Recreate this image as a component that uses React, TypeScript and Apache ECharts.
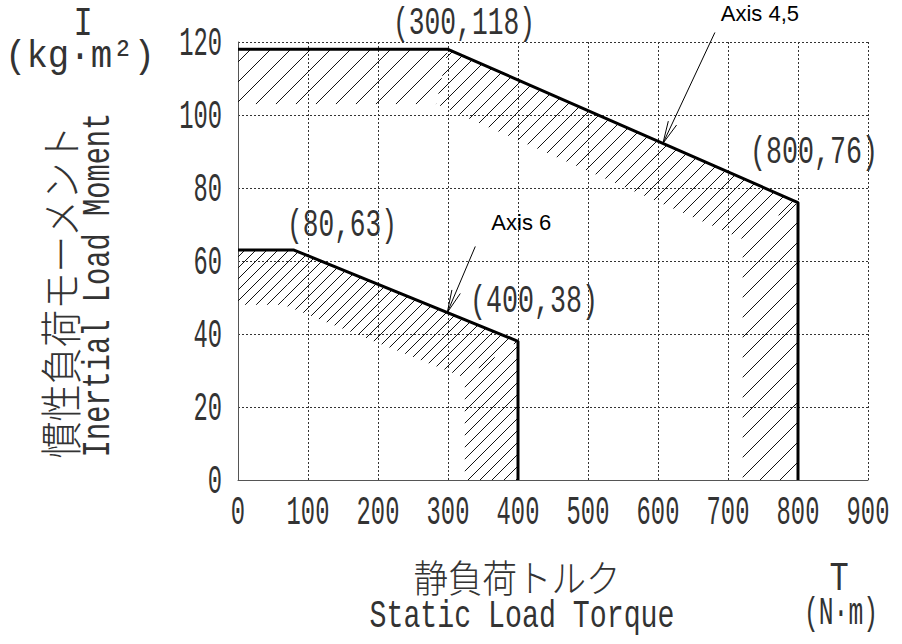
import React, { useEffect, useRef } from "react";
import * as echarts from "echarts";

// ---- data ----
const xTicks = [0, 100, 200, 300, 400, 500, 600, 700, 800, 900];
const yTicks = [0, 20, 40, 60, 80, 100, 120];

const axis45Outer = [[0, 118], [300, 118], [800, 76], [800, 0]];
const axis45Inner = [[0, 103], [283, 103], [721, 66], [721, 0]];
const axis45HatchGap = [20, 14, 20];

const axis6Outer = [[0, 63], [80, 63], [400, 38], [400, 0]];
const axis6Inner = [[0, 48], [65, 48], [324, 28], [324, 0]];
const axis6HatchGap = [11, 11, 12];

const seriesNames = ["Axis 4,5", "Axis 6"];
const arrowTips = [[607, 92.2], [299, 45.9]];

const yNameJa = "慣性負荷モーメント";
const yNameEn = "Inertial Load Moment";
const yUnitSym = "I";
const yUnit = "(kg·m²)";
const xNameJa = "静負荷トルク";
const xNameEn = "Static Load Torque";
const xUnitSym = "T";
const xUnit = "(N·m)";

// ---- style ----
const CAD = '"Liberation Mono", "DejaVu Sans Mono", monospace';
const CJK = '"Noto Sans CJK JP", "Noto Sans CJK SC", sans-serif';
const SANS = '"Liberation Sans", Arial, sans-serif';
const INK = "#333";

function bandPieces(outer: number[][], inner: number[][], gaps: number[]) {
  return gaps.map((g, i) => ({ poly: [outer[i], outer[i + 1], inner[i + 1], inner[i]], gap: g }));
}
const pieces = [
  ...bandPieces(axis45Outer, axis45Inner, axis45HatchGap),
  ...bandPieces(axis6Outer, axis6Inner, axis6HatchGap),
];

let ctx: CanvasRenderingContext2D | null = null;
function measure(text: string, font: string) {
  if (!ctx) ctx = document.createElement("canvas").getContext("2d");
  ctx!.font = font;
  return ctx!.measureText(text).width || 1;
}

type TOpts = {
  width?: number; scale?: number; size: number; family?: string;
  rotation?: number; weight?: string; align?: string; fill?: string;
};
function txt(text: string, x: number, y: number, o: TOpts) {
  const family = o.family || CAD;
  const weight = o.weight || "normal";
  const align = o.align || "center";
  let sx = o.scale || 1;
  if (o.width) sx = o.width / measure(text, `${weight} ${o.size}px ${family}`);
  return {
    type: "text", x, y, rotation: o.rotation || 0, scaleX: sx, silent: true, z: 10,
    style: {
      text, fontSize: o.size, fontFamily: family, fontWeight: weight, fill: o.fill || INK,
      textAlign: align, textVerticalAlign: "middle", align, verticalAlign: "middle",
    },
  };
}

function arrow(tip: number[], dx: number, dy: number) {
  const len = Math.hypot(dx, dy);
  const ux = dx / len, uy = dy / len;
  const wing = (a: number) => {
    const c = Math.cos(a), s = Math.sin(a);
    return [tip[0] + 23 * (ux * c - uy * s), tip[1] + 23 * (ux * s + uy * c)];
  };
  const st = { stroke: "#000", lineWidth: 1, fill: "none" };
  return [
    { type: "line", silent: true, z: 10, shape: { x1: tip[0], y1: tip[1], x2: tip[0] + dx, y2: tip[1] + dy }, style: st },
    { type: "polyline", silent: true, z: 10, shape: { points: [wing(0.2), tip, wing(-0.2)] }, style: st },
  ];
}

export default function App() {
  const ref = useRef<HTMLDivElement>(null);
  useEffect(() => {
    const chart = echarts.init(ref.current!, null, { renderer: "svg" });
    const gridLine = { show: true, lineStyle: { color: "#333", type: [2, 2], width: 1 } };
    const axisLine = { show: true, onZero: false, lineStyle: { color: "#555", width: 1 } };
    chart.setOption({
      animation: false,
      backgroundColor: "#fff",
      grid: { left: 238, top: 42, right: 34, bottom: 164, containLabel: false },
      xAxis: {
        type: "value", min: xTicks[0], max: xTicks[xTicks.length - 1], interval: xTicks[1] - xTicks[0],
        axisLine, axisTick: { show: false }, splitLine: gridLine, axisLabel: { show: false },
      },
      yAxis: {
        type: "value", min: yTicks[0], max: yTicks[yTicks.length - 1], interval: yTicks[1] - yTicks[0],
        axisLine, axisTick: { show: false }, splitLine: gridLine, axisLabel: { show: false },
      },
      series: [
        {
          type: "custom", name: "hatch", silent: true, z: 1,
          data: pieces.map((p, i) => [p.poly[0][0], p.poly[0][1], i]),
          encode: { x: 0, y: 1 },
          renderItem: (params: any, api: any) => {
            const piece = pieces[api.value(2)];
            const pts = piece.poly.map((p) => api.coord(p));
            const sums = pts.map((p: number[]) => p[0] + p[1]);
            const lo = Math.min(...sums), hi = Math.max(...sums);
            const children: any[] = [];
            for (let c = Math.ceil(lo / piece.gap) * piece.gap; c <= hi; c += piece.gap) {
              const hits: number[][] = [];
              for (let i = 0; i < pts.length; i++) {
                const p = pts[i], q = pts[(i + 1) % pts.length];
                const fp = p[0] + p[1] - c, fq = q[0] + q[1] - c;
                if ((fp < 0 && fq >= 0) || (fp >= 0 && fq < 0)) {
                  const t = fp / (fp - fq);
                  hits.push([p[0] + t * (q[0] - p[0]), p[1] + t * (q[1] - p[1])]);
                }
              }
              hits.sort((a, b) => a[0] - b[0]);
              for (let k = 0; k + 1 < hits.length; k += 2) {
                children.push({
                  type: "line",
                  shape: { x1: hits[k][0], y1: hits[k][1], x2: hits[k + 1][0], y2: hits[k + 1][1] },
                  style: { stroke: "#111", lineWidth: 1 },
                });
              }
            }
            return { type: "group", children };
          },
        },
        {
          type: "line", name: seriesNames[0], data: axis45Outer, symbol: "none", z: 5,
          lineStyle: { color: "#000", width: 3 },
        },
        {
          type: "line", name: seriesNames[1], data: axis6Outer, symbol: "none", z: 5,
          lineStyle: { color: "#000", width: 3 },
        },
      ],
    });

    const px = (p: number[]) => chart.convertToPixel({ gridIndex: 0 } as any, p) as number[];
    const TICK_SCALE = 0.58;
    const tickLabels: any[] = [];
    xTicks.forEach((v) => {
      const p = px([v, yTicks[0]]);
      tickLabels.push(txt(String(v), p[0], p[1] + 33, { size: 41, scale: TICK_SCALE }));
    });
    yTicks.forEach((v) => {
      const p = px([xTicks[0], v]);
      tickLabels.push(txt(String(v), p[0] - 16, p[1] + 2, { size: 41, scale: TICK_SCALE, align: "right" }));
    });

    const label = (pt: number[], dx: number, dy: number, w: number) => {
      const p = px(pt);
      return txt(`(${pt[0]},${pt[1]})`, p[0] + dx, p[1] + dy, { width: w, size: 38 });
    };
    const t1 = px(arrowTips[0]);
    const t2 = px(arrowTips[1]);
    const elements: any[] = [
      ...tickLabels,
      label(axis45Outer[1], 16, -25, 142),
      label(axis45Outer[2], 16, -49, 128),
      label(axis6Outer[1], 48, -24, 110),
      label(axis6Outer[2], 16, -39, 128),
      ...arrow(t1, 52, -111),
      ...arrow(t2, 28, -66),
      txt(seriesNames[0], t1[0] + 52 + 45, t1[1] - 111 - 19, { size: 22, family: SANS, fill: "#000" }),
      txt(seriesNames[1], t2[0] + 28 + 46, t2[1] - 66 - 24, { size: 22, family: SANS, fill: "#000" }),
      txt(yUnitSym, 83, 25, { size: 40, scale: 0.8 }),
      txt(yUnit, 80, 57, { width: 150, size: 38 }),
      txt(yNameJa, 58, 292, { width: 335, size: 42, family: CJK, rotation: Math.PI / 2, weight: "300" }),
      txt(yNameEn, 99, 285, { width: 345, size: 38, rotation: Math.PI / 2 }),
      txt(xNameJa, 517, 575, { width: 207, size: 38, family: CJK, weight: "300" }),
      txt(xNameEn, 522, 617, { width: 305, size: 38 }),
      txt(xUnitSym, 839, 580, { size: 40, scale: 0.8 }),
      txt(xUnit, 841, 614, { width: 74, size: 38 }),
    ];
    chart.setOption({ graphic: { elements } });
    return () => chart.dispose();
  }, []);
  return (
    <div
      ref={ref}
      style={{ position: "fixed", left: 0, top: 0, width: 902, height: 644, background: "#fff" }}
    />
  );
}
